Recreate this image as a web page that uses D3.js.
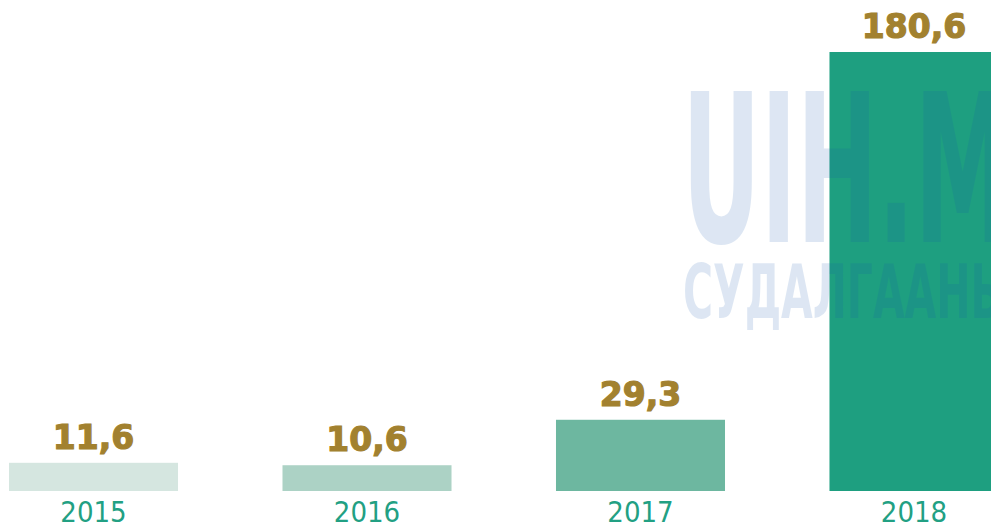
<!DOCTYPE html>
<html>
<head>
<meta charset="utf-8">
<script src="https://cdn.jsdelivr.net/npm/d3@7"></script>
<style>
  html, body { margin: 0; padding: 0; background: #fff; }
  svg { display: block; }
</style>
</head>
<body>
<script>
// data
const years = ['2015', '2016', '2017', '2018'];
const values = [11.6, 10.6, 29.3, 180.6];
const valueLabels = ['11,6', '10,6', '29,3', '180,6'];
const barColors = ['#d5e6e0', '#acd2c5', '#6db7a0', '#1e9f80'];

const width = 991;
const height = 528;

const svg = d3.select('body')
  .append('svg')
  .attr('width', width)
  .attr('height', height);

const x = d3.scaleBand()
  .domain(years)
  .range([9, 998.5])
  .paddingInner(0.382)
  .paddingOuter(0);

const y = d3.scaleLinear()
  .domain([0, 180.6])
  .range([491, 52]);

const rows = years.map((yr, i) => ({year: yr, value: values[i], label: valueLabels[i], color: barColors[i]}));

// bars
svg.append('g')
  .attr('class', 'bars')
  .selectAll('rect')
  .data(rows)
  .enter()
  .append('rect')
  .attr('x', d => x(d.year))
  .attr('y', d => y(d.value))
  .attr('width', x.bandwidth())
  .attr('height', d => y(0) - y(d.value))
  .style('fill', d => d.color);

// faint watermark of the source site
const wm = svg.append('g')
  .attr('class', 'watermark')
  .style('fill', 'rgb(21,88,175)')
  .style('opacity', 0.14)
  .style('font-family', "'Liberation Sans Narrow', 'DejaVu Sans Condensed', sans-serif")
  .style('font-weight', 'bold');

wm.append('text')
  .attr('x', 682)
  .attr('y', 242)
  .attr('textLength', 410)
  .attr('lengthAdjust', 'spacingAndGlyphs')
  .style('font-size', '206px')
  .text('UIH.MN');

wm.append('text')
  .attr('x', 683)
  .attr('y', 318)
  .attr('textLength', 330)
  .attr('lengthAdjust', 'spacingAndGlyphs')
  .style('font-size', '74px')
  .text('СУДАЛГААНЫ');

// value labels
svg.append('g')
  .attr('class', 'values')
  .selectAll('text')
  .data(rows)
  .enter()
  .append('text')
  .attr('x', d => x(d.year) + x.bandwidth() / 2)
  .attr('y', d => y(d.value) - 14)
  .attr('text-anchor', 'middle')
  .style('font-family', "'DejaVu Sans', sans-serif")
  .style('font-weight', 'bold')
  .style('font-size', '33px')
  .style('fill', '#a2812f')
  .style('stroke', '#a2812f')
  .style('stroke-width', 1.2)
  .text(d => d.label);

// year labels
svg.append('g')
  .attr('class', 'years')
  .selectAll('text')
  .data(rows)
  .enter()
  .append('text')
  .attr('x', d => x(d.year) + x.bandwidth() / 2)
  .attr('y', 522)
  .attr('text-anchor', 'middle')
  .style('font-family', "'Liberation Sans Narrow', 'DejaVu Sans Condensed', sans-serif")
  .style('font-weight', 300)
  .style('font-size', '29px')
  .style('fill', '#22a083')
  .text(d => d.year);
</script>
</body>
</html>
